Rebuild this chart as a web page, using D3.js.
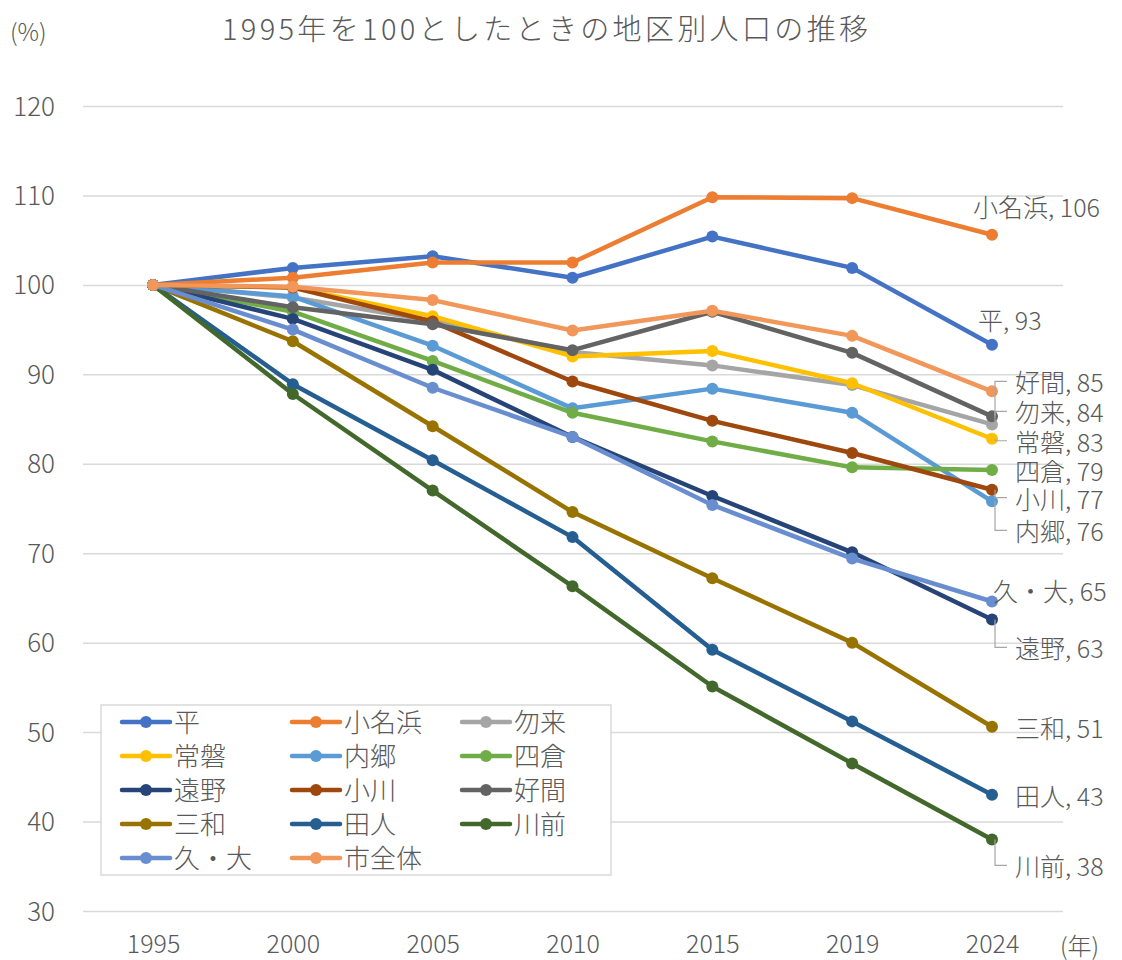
<!DOCTYPE html>
<html>
<head>
<meta charset="utf-8">
<script src="https://cdn.jsdelivr.net/npm/d3@7/dist/d3.min.js"></script>
<style>
  html, body { margin: 0; padding: 0; background: #fff; }
  svg text { font-family: "Noto Sans CJK JP", "Noto Sans", sans-serif; font-weight: 300; fill: #595959; }
</style>
</head>
<body>
<svg id="chart" width="1122" height="960"></svg>
<script>
// ---- data ----
const years = ["1995", "2000", "2005", "2010", "2015", "2019", "2024"];
const seriesNames = ["平", "小名浜", "勿来", "常磐", "内郷", "四倉", "遠野", "小川", "好間", "三和", "田人", "川前", "久・大", "市全体"];
const taira      = [100, 101.9, 103.2, 100.8, 105.4, 101.9, 93.3];
const onahama    = [100, 100.8, 102.5, 102.5, 109.8, 109.7, 105.6];
const nakoso     = [100, 98.6, 96.0, 92.5, 91.0, 88.8, 84.4];
const joban      = [100, 99.7, 96.5, 92.0, 92.6, 89.0, 82.8];
const uchigo     = [100, 98.7, 93.2, 86.2, 88.4, 85.7, 75.8];
const yotsukura  = [100, 97.0, 91.5, 85.7, 82.5, 79.6, 79.3];
const tono       = [100, 96.2, 90.5, 83.0, 76.4, 70.1, 62.6];
const ogawa      = [100, 99.7, 95.9, 89.2, 84.8, 81.2, 77.1];
const yoshima    = [100, 97.5, 95.6, 92.7, 97.0, 92.4, 85.3];
const miwa       = [100, 93.7, 84.2, 74.6, 67.2, 60.0, 50.6];
const tabito     = [100, 88.9, 80.4, 71.8, 59.2, 51.2, 43.0];
const kawamae    = [100, 87.8, 77.0, 66.3, 55.1, 46.5, 38.0];
const kudai      = [100, 95.0, 88.5, 83.0, 75.4, 69.4, 64.6];
const cityTotal  = [100, 99.8, 98.3, 94.9, 97.1, 94.3, 88.1];
const seriesValues = [taira, onahama, nakoso, joban, uchigo, yotsukura, tono, ogawa, yoshima, miwa, tabito, kawamae, kudai, cityTotal];
const yTicks = [30, 40, 50, 60, 70, 80, 90, 100, 110, 120];
const labelled = ["平", "小名浜", "勿来", "常磐", "内郷", "四倉", "遠野", "小川", "好間", "三和", "田人", "川前", "久・大"];

// ---- styles / layout ----
const colors = ["#4472C4", "#ED7D31", "#A5A5A5", "#FFC000", "#5B9BD5", "#70AD47", "#264478", "#9E480E", "#636363", "#997300", "#255E91", "#43682B", "#698ED0", "#F1975A"];
// label offsets (px) relative to last point, leader flag
const labelLayout = {
  "小名浜": { dx: -19, dy: -29, leader: false },
  "平":     { dx: -14, dy: -26, leader: false },
  "好間":   { dx: 23, dy: -35, leader: true },
  "勿来":   { dx: 23, dy: -13, leader: true },
  "常磐":   { dx: 23, dy: 2, leader: true },
  "四倉":   { dx: 23, dy: 0, leader: false },
  "小川":   { dx: 23, dy: 8, leader: true },
  "内郷":   { dx: 23, dy: 29, leader: true },
  "久・大": { dx: 1, dy: -12, leader: false },
  "遠野":   { dx: 23, dy: 28, leader: true },
  "三和":   { dx: 23, dy: 0, leader: false },
  "田人":   { dx: 23, dy: 0, leader: false },
  "川前":   { dx: 23, dy: 26, leader: true }
};

const svg = d3.select("#chart");
const plotLeft = 83, plotRight = 1063;
const x = d3.scalePoint().domain(years).range([153, 992]);
const y = d3.scaleLinear().domain([30, 120]).range([911, 106]);

// title
svg.append("text").attr("x", 222).attr("y", 27)
  .attr("dominant-baseline", "central")
  .attr("font-size", 29)
  .attr("textLength", 646).attr("lengthAdjust", "spacing")
  .text("1995年を100としたときの地区別人口の推移");
svg.append("text").attr("x", 10).attr("y", 30).attr("dominant-baseline", "central")
  .attr("font-size", 24).text("(%)");

// y axis with gridlines
const yAxis = d3.axisLeft(y).tickValues(yTicks).tickSize(-(plotRight - plotLeft)).tickPadding(28);
const gy = svg.append("g").attr("transform", `translate(${plotLeft},0)`).call(yAxis);
gy.select(".domain").remove();
gy.selectAll(".tick line").attr("stroke", "#d9d9d9").attr("stroke-width", 1.5);
gy.selectAll(".tick text").attr("font-size", 26).attr("fill", "#595959").attr("dy", "0.35em");

// x axis
const xAxis = d3.axisBottom(x).tickSize(0).tickPadding(0);
const gx = svg.append("g").attr("transform", `translate(0,944)`).call(xAxis);
gx.select(".domain").remove();
gx.selectAll(".tick text").attr("font-size", 25).attr("fill", "#595959").attr("dy", "0.35em").attr("y", 0);
svg.append("text").attr("x", 1060).attr("y", 944).attr("dominant-baseline", "central")
  .attr("font-size", 24).text("(年)");

// series
const line = d3.line().x((d, i) => x(years[i])).y(d => y(d));
seriesNames.forEach((name, si) => {
  const vals = seriesValues[si];
  const g = svg.append("g");
  g.append("path").datum(vals).attr("d", line)
    .attr("fill", "none").attr("stroke", colors[si]).attr("stroke-width", 4.5)
    .attr("stroke-linejoin", "round").attr("stroke-linecap", "round");
  g.selectAll("circle").data(vals).join("circle")
    .attr("cx", (d, i) => x(years[i])).attr("cy", d => y(d)).attr("r", 6)
    .attr("fill", colors[si]);
});

// data labels
seriesNames.forEach((name, si) => {
  if (!labelled.includes(name)) return;
  const vals = seriesValues[si];
  const last = vals[vals.length - 1];
  const px = x(years[years.length - 1]), py = y(last);
  const L = labelLayout[name];
  const lx = px + L.dx, ly = py + L.dy;
  if (L.leader) {
    svg.append("path")
      .attr("d", `M${lx - 8},${ly} L${px + 3},${ly} L${px + 3},${py}`)
      .attr("fill", "none").attr("stroke", "#a6a6a6").attr("stroke-width", 1.2);
  }
  svg.append("text").attr("x", lx).attr("y", ly).attr("dominant-baseline", "central")
    .attr("font-size", 25).text(`${name}, ${Math.round(last)}`);
});

// legend
const legend = svg.append("g");
legend.append("rect").attr("x", 101).attr("y", 705).attr("width", 510).attr("height", 170)
  .attr("fill", "#fff").attr("stroke", "#d9d9d9").attr("stroke-width", 1.5);
seriesNames.forEach((name, si) => {
  const col = si % 3, row = Math.floor(si / 3);
  const lx = 122 + col * 170, ly = 722 + row * 34;
  legend.append("line").attr("x1", lx).attr("x2", lx + 48).attr("y1", ly).attr("y2", ly)
    .attr("stroke", colors[si]).attr("stroke-width", 4.5).attr("stroke-linecap", "round");
  legend.append("circle").attr("cx", lx + 24).attr("cy", ly).attr("r", 6).attr("fill", colors[si]);
  legend.append("text").attr("x", lx + 52).attr("y", ly - 2).attr("dominant-baseline", "central")
    .attr("font-size", 26).text(name);
});
</script>
</body>
</html>
